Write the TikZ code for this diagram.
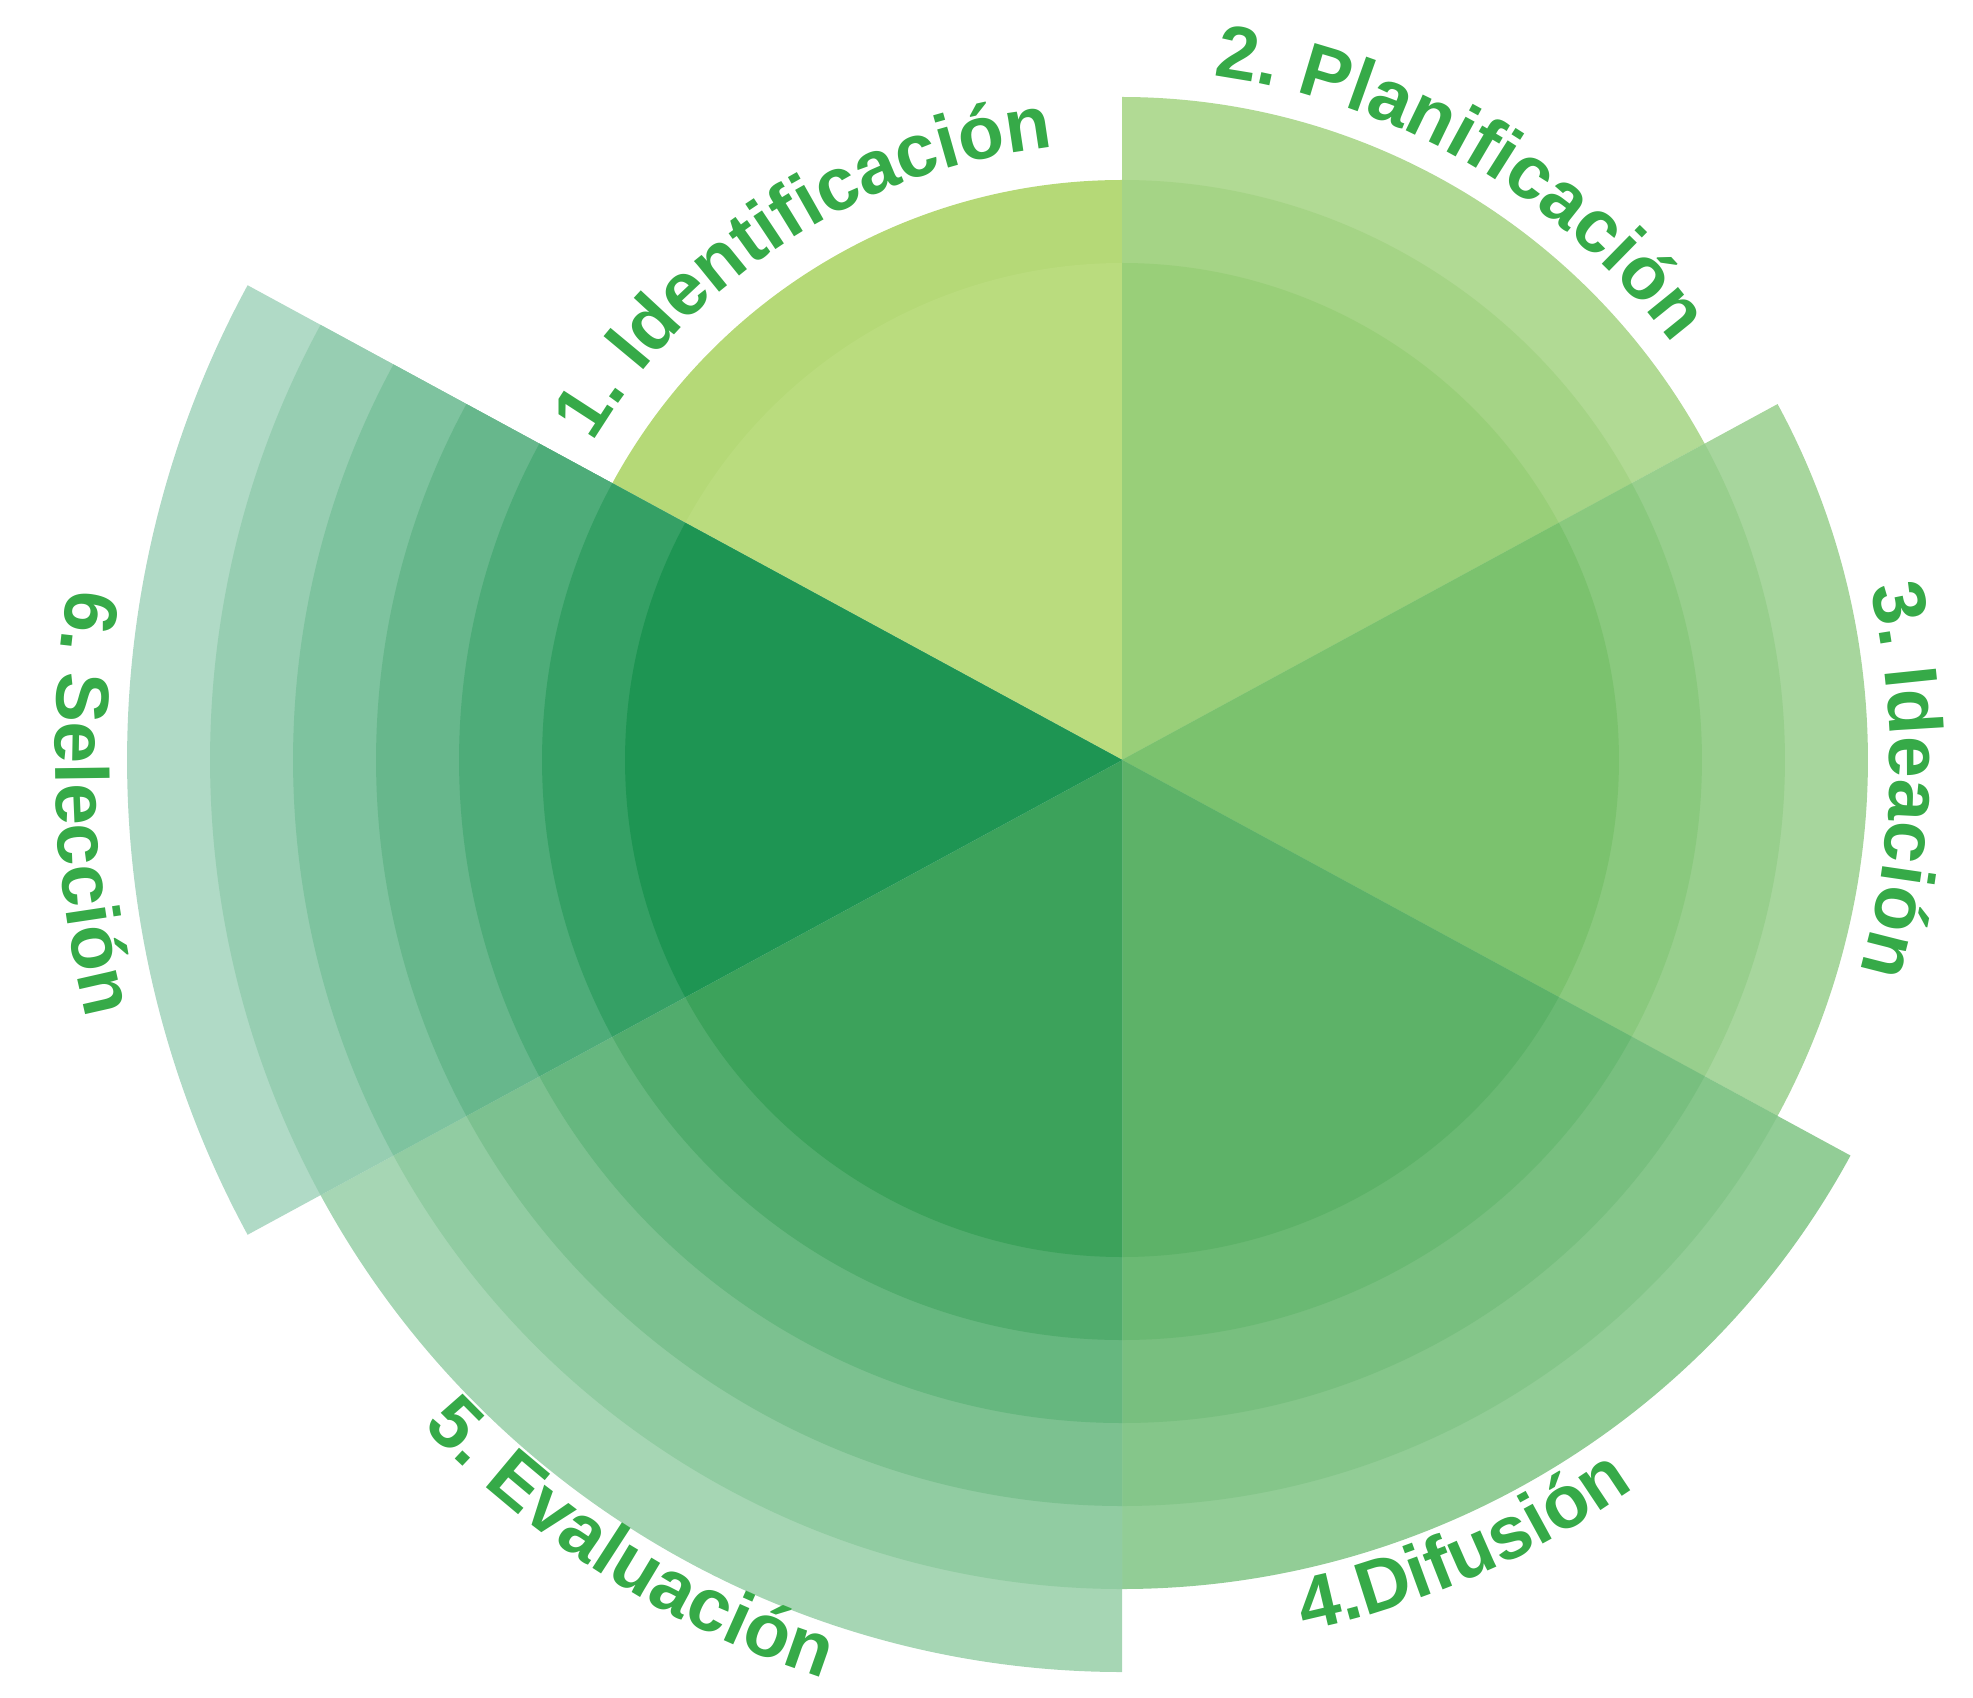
\documentclass[tikz,border=0pt]{standalone}
\usepackage{fontspec}
\setmainfont{Liberation Sans}
\usetikzlibrary{decorations.text}
\definecolor{lbl}{HTML}{36AA48}
\definecolor{s1i}{HTML}{BADC7E}\definecolor{s1o}{HTML}{B5D977}
\definecolor{s2i}{HTML}{99CF79}\definecolor{s2o}{HTML}{B1DA94}
\definecolor{s3i}{HTML}{7BC26E}\definecolor{s3o}{HTML}{A7D69D}
\definecolor{s4i}{HTML}{5DB268}\definecolor{s4o}{HTML}{92CD96}
\definecolor{s5i}{HTML}{3CA25B}\definecolor{s5o}{HTML}{A6D6B4}
\definecolor{s6i}{HTML}{1E9553}\definecolor{s6o}{HTML}{B0DAC6}
\newcommand\lblfont{\fontsize{37.5}{40}\selectfont\bfseries}
\tikzset{
  arclabel/.style={decorate, decoration={text along path, text align=center, text color=lbl, text={|\lblfont|#1}}}
}
\begin{document}
\begin{tikzpicture}[x=0.5pt,y=0.5pt]
\useasboundingbox (-1122,-937) rectangle (851,760);
\coordinate (c) at (0,0);
\foreach \a/\b/\n/\ci/\co in {90/151.5/2/s1i/s1o, 28.5/90/3/s2i/s2o, -28.5/28.5/4/s3i/s3o, -90/-28.5/5/s4i/s4o, -151.5/-90/6/s5i/s5o, 151.5/208.5/7/s6i/s6o}{
  \pgfmathtruncatemacro\topj{\n-1}
  \foreach \j in {\topj,...,0}{
    \pgfmathtruncatemacro\p{100*\j/\topj}
    \pgfmathsetmacro\r{497+83*\j}
    \fill[color=\co!\p!\ci] (c) -- (\a:\r) arc[start angle=\a, end angle=\b, radius=\r] -- cycle;
  }
}
\path[arclabel={1. Identificación}] (167.7:617) arc[start angle=167.7, end angle=77.7, radius=617];
\path[arclabel={2. Planificación}] (104.7:690) arc[start angle=104.7, end angle=14.7, radius=690];
\path[arclabel={3. Ideación}] (38.5:768) arc[start angle=38.5, end angle=-41.5, radius=768];
\path[arclabel={4.Difusión}] (-106.5:890) arc[start angle=-106.5, end angle=-26.5, radius=890];
\path[arclabel={5. Evaluación}] (-162.2:966) arc[start angle=-162.2, end angle=-82.2, radius=966];
\path[arclabel={6. Selección}] (142.4:1067) arc[start angle=142.4, end angle=222.4, radius=1067];
\end{tikzpicture}
\end{document}
